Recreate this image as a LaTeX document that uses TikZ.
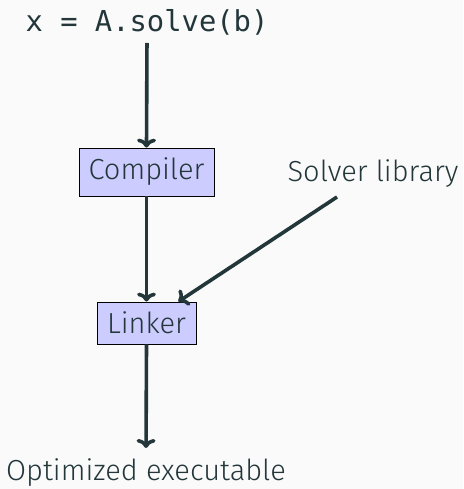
\documentclass[tikz,border=0pt]{standalone}
\usepackage{fontspec}
\setmainfont{Fira Sans Light}
\setmonofont{DejaVu Sans Mono}
\usetikzlibrary{arrows.meta,calc}
\definecolor{fg}{HTML}{23373B}
\definecolor{bg}{HTML}{FAFAFA}
\definecolor{boxfill}{HTML}{CCCCFF}
\begin{document}
\begin{tikzpicture}[x=1pt,y=-1pt,
  every node/.style={text=fg,font=\fontsize{29}{34}\selectfont},
  arr/.style={draw=fg,line width=3.6pt,-{Computer Modern Rightarrow[length=9pt,width=19pt,line width=3.6pt]}},
  stage/.style={draw=black,line width=0.8pt,fill=boxfill,inner sep=0pt}]
\fill[bg] (0,0) rectangle (463,489);
\useasboundingbox (0,0) rectangle (463,489);
\node[anchor=base,inner sep=0pt,font=\fontsize{28.8}{34}\selectfont\ttfamily] (code) at (147,32) {x = A.solve(b)};
\node[stage,minimum width=135pt,minimum height=48pt] (comp) at (146.5,172) {Compiler};
\node[stage,minimum width=99pt,minimum height=42pt] (link) at (146.5,323) {Linker};
\node[anchor=base,inner sep=0pt] (solver) at (373,181) {Solver library};
\node[anchor=base,inner sep=0pt] (out) at (146,480) {Optimized executable};
\coordinate (sl) at (337,197);
\draw[arr,shorten <=7pt] (code.south) -- (comp.north);
\draw[arr] (comp.south) -- (link.north);
\draw[arr,shorten >=10pt] (link.south) -- (out.north);
\draw[arr] (sl) -- ([xshift=-18pt]link.north east);
\end{tikzpicture}
\end{document}
